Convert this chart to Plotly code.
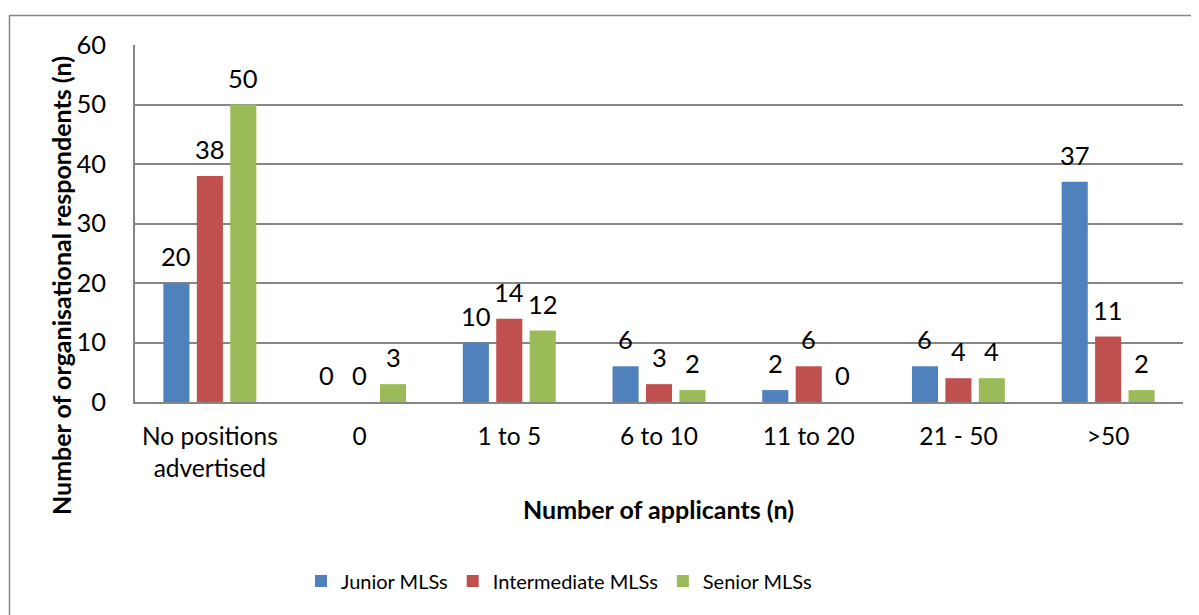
import plotly.graph_objects as go

categories = ["No positions<br>advertised", "0", "1 to 5", "6 to 10", "11 to 20", "21 - 50", ">50"]
junior = [20, 0, 10, 6, 2, 6, 37]
intermediate = [38, 0, 14, 3, 6, 4, 11]
senior = [50, 3, 12, 2, 0, 4, 2]
series_names = ["Junior MLSs", "Intermediate MLSs", "Senior MLSs"]
colors = ["#4F81BD", "#C0504D", "#9BBB59"]
y_ticks = [0, 10, 20, 30, 40, 50, 60]

FONT = "Lato, sans-serif"
CAT_FS = 24.5
NUM_FS = 25.5
TITLE_FS = 25
LEG_FS = 20

# the page body adds an 8px offset; figure is sized so it fits the window
OFF = 8
W, H = 1199 - OFF, 615 - OFF
# plot area in picture coordinates
PL, PR, PT, PB = 135, 1183, 45, 402
L, T = PL - OFF, PT - OFF
R, B = W - (PR - OFF), H - (PB - OFF)
pw, ph = PR - PL, PB - PT

fig = go.Figure()
all_series = [junior, intermediate, senior]
for name, vals, col in zip(series_names, all_series, colors):
    fig.add_trace(go.Bar(
        x=categories, y=vals, name=name, marker=dict(color=col, line=dict(width=0)),
    ))

# data labels
slot = 33.5
for i, vals in enumerate(all_series):
    for j, v in enumerate(vals):
        fig.add_annotation(x=j, y=v, xref="x", yref="y", text=str(v), showarrow=False,
                           xshift=(i - 1) * slot, yshift=27, yanchor="middle",
                           font=dict(family=FONT, size=NUM_FS, color="#000000"))

fig.update_layout(
    width=W, height=H,
    margin=dict(l=L, r=R, t=T, b=B, autoexpand=False),
    paper_bgcolor="white", plot_bgcolor="white",
    barmode="group", bargap=0.33, bargroupgap=0.22,
    font=dict(family=FONT, size=CAT_FS, color="#000000"),
    showlegend=True,
    legend=dict(orientation="h", x=(301 - PL) / pw, xanchor="left",
                y=(PB - 581) / ph, yanchor="middle",
                font=dict(family=FONT, size=LEG_FS), itemwidth=30),
    xaxis=dict(showgrid=False, showline=True, linecolor="#868686", linewidth=1.5,
               ticks="", ticklabelstandoff=12, automargin=False,
               tickfont=dict(family=FONT, size=CAT_FS)),
    yaxis=dict(range=[0, 60], tickvals=y_ticks, showgrid=True, gridcolor="#868686", gridwidth=1.5,
               showline=True, linecolor="#868686", linewidth=1.5, zeroline=False,
               ticks="", ticklabelstandoff=22, automargin=False,
               tickfont=dict(family=FONT, size=NUM_FS)),
)

# axis titles
fig.add_annotation(xref="paper", yref="paper", x=(658.5 - PL) / pw, y=(PB - 509) / ph,
                   text="<b>Number of applicants (n)</b>", showarrow=False,
                   xanchor="center", yanchor="middle",
                   font=dict(family=FONT, size=TITLE_FS, color="#000000"))
fig.add_annotation(xref="paper", yref="paper", x=(61 - PL) / pw, y=(PB - 286) / ph,
                   text="<b>Number of organisational respondents (n)</b>", showarrow=False,
                   textangle=-90, xanchor="center", yanchor="middle",
                   font=dict(family=FONT, size=TITLE_FS, color="#000000"))

# outer chart border
fig.add_shape(type="rect", xref="paper", yref="paper",
              x0=(9.5 - PL) / pw, x1=(1199 + 10 - PL) / pw,
              y0=(PB - (615 + 10)) / ph, y1=(PB - 15.5) / ph,
              line=dict(color="#868686", width=1.5), fillcolor="rgba(0,0,0,0)", layer="below")

fig.write_html("out.html")
